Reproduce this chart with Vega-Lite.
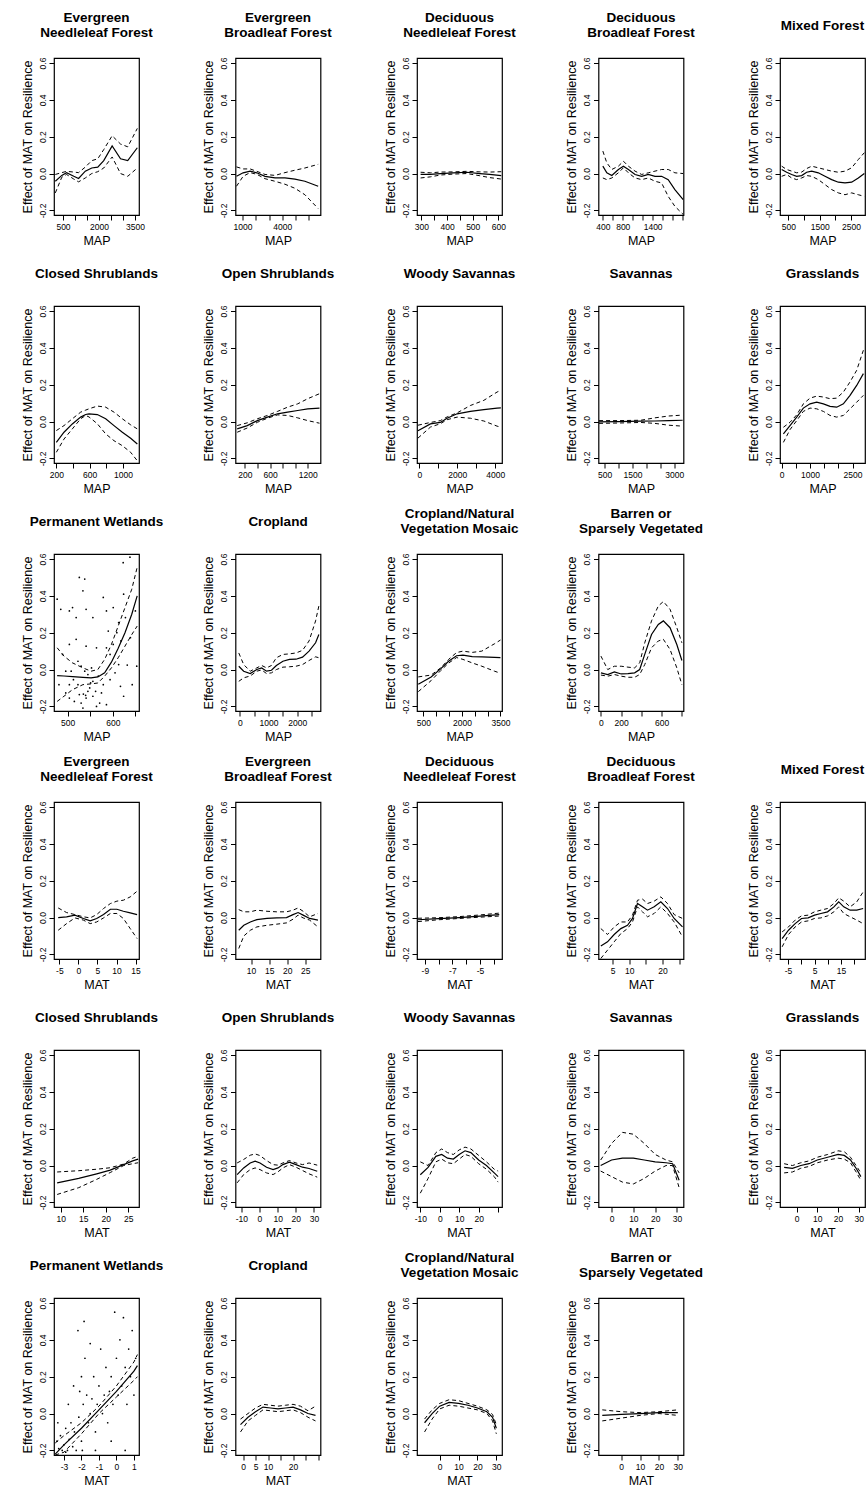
{
"$schema":"https://vega.github.io/schema/vega-lite/v6.json",
"background":"white",
"padding":{"left":20,"top":9,"right":5,"bottom":5},
"config":{
 "view":{"stroke":"black","strokeWidth":1.2},
 "font":"Liberation Sans",
 "title":{"font":"Liberation Sans","fontSize":13.5,"fontWeight":"bold","color":"black","lineHeight":15,"offset":18,"anchor":"middle"},
 "axis":{"domain":false,"grid":false,"ticks":true,"tickColor":"black","tickSize":5,"labelColor":"black","labelFont":"Liberation Sans","labelFontSize":8.5,"labelPadding":2,"titleFont":"Liberation Sans","titleFontSize":12.5,"titleFontWeight":"normal","titleColor":"black","labelFlush":false,"labelOverlap":false},
 "axisX":{"titlePadding":4},
 "axisY":{"labelAngle":270,"labelAlign":"center","labelBaseline":"bottom","titlePadding":4}
},
"datasets":{
"c":[
{"p":1,"x":180,"f":-0.042,"lo":-0.105,"hi":-0.005},{"p":1,"x":450,"f":-0.01,"lo":-0.02,"hi":0.005},{"p":1,"x":650,"f":0.005,"lo":-0.005,"hi":0.012},{"p":1,"x":950,"f":-0.015,"lo":-0.03,"hi":0.008},{"p":1,"x":1150,"f":-0.027,"lo":-0.045,"hi":0.005},{"p":1,"x":1430,"f":0.013,"lo":-0.024,"hi":0.035},{"p":1,"x":1700,"f":0.03,"lo":0.0,"hi":0.07},{"p":1,"x":1950,"f":0.035,"lo":0.01,"hi":0.08},{"p":1,"x":2200,"f":0.07,"lo":0.03,"hi":0.13},{"p":1,"x":2550,"f":0.15,"lo":0.09,"hi":0.205},{"p":1,"x":2900,"f":0.08,"lo":0.0,"hi":0.16},{"p":1,"x":3200,"f":0.07,"lo":-0.015,"hi":0.145},{"p":1,"x":3600,"f":0.14,"lo":0.03,"hi":0.245},
{"p":2,"x":550,"f":-0.015,"lo":-0.069,"hi":0.036},{"p":2,"x":1050,"f":0.004,"lo":-0.015,"hi":0.025},{"p":2,"x":1575,"f":0.013,"lo":0.005,"hi":0.025},{"p":2,"x":2075,"f":0.004,"lo":-0.004,"hi":0.012},{"p":2,"x":2700,"f":-0.015,"lo":-0.028,"hi":-0.005},{"p":2,"x":3450,"f":-0.024,"lo":-0.042,"hi":-0.01},{"p":2,"x":4200,"f":-0.024,"lo":-0.058,"hi":0.005},{"p":2,"x":4950,"f":-0.03,"lo":-0.08,"hi":0.018},{"p":2,"x":5700,"f":-0.042,"lo":-0.115,"hi":0.03},{"p":2,"x":6700,"f":-0.069,"lo":-0.19,"hi":0.05},
{"p":3,"x":297,"f":-0.005,"lo":-0.024,"hi":0.007},{"p":3,"x":335,"f":-0.005,"lo":-0.018,"hi":0.004},{"p":3,"x":374,"f":0.0,"lo":-0.008,"hi":0.008},{"p":3,"x":425,"f":0.004,"lo":-0.003,"hi":0.009},{"p":3,"x":477,"f":0.007,"lo":0.0,"hi":0.012},{"p":3,"x":528,"f":0.0,"lo":-0.012,"hi":0.009},{"p":3,"x":566,"f":-0.005,"lo":-0.022,"hi":0.008},{"p":3,"x":611,"f":-0.011,"lo":-0.03,"hi":0.01},
{"p":4,"x":400,"f":0.04,"lo":-0.024,"hi":0.122},{"p":4,"x":480,"f":0.004,"lo":-0.033,"hi":0.058},{"p":4,"x":580,"f":-0.011,"lo":-0.024,"hi":0.022},{"p":4,"x":713,"f":0.022,"lo":0.004,"hi":0.04},{"p":4,"x":813,"f":0.04,"lo":0.031,"hi":0.067},{"p":4,"x":913,"f":0.022,"lo":0.004,"hi":0.04},{"p":4,"x":1047,"f":-0.005,"lo":-0.024,"hi":0.013},{"p":4,"x":1180,"f":-0.015,"lo":-0.033,"hi":-0.005},{"p":4,"x":1313,"f":-0.005,"lo":-0.024,"hi":0.004},{"p":4,"x":1447,"f":-0.015,"lo":-0.042,"hi":0.013},{"p":4,"x":1580,"f":-0.015,"lo":-0.051,"hi":0.022},{"p":4,"x":1713,"f":-0.033,"lo":-0.124,"hi":0.022},{"p":4,"x":1847,"f":-0.087,"lo":-0.178,"hi":0.004},{"p":4,"x":2013,"f":-0.142,"lo":-0.222,"hi":0.0},
{"p":5,"x":287,"f":0.022,"lo":-0.015,"hi":0.04},{"p":5,"x":447,"f":0.007,"lo":-0.005,"hi":0.022},{"p":5,"x":606,"f":-0.005,"lo":-0.024,"hi":0.013},{"p":5,"x":766,"f":-0.015,"lo":-0.033,"hi":0.004},{"p":5,"x":926,"f":-0.011,"lo":-0.024,"hi":0.008},{"p":5,"x":1085,"f":0.007,"lo":-0.011,"hi":0.027},{"p":5,"x":1245,"f":0.013,"lo":-0.015,"hi":0.04},{"p":5,"x":1457,"f":0.004,"lo":-0.033,"hi":0.031},{"p":5,"x":1670,"f":-0.015,"lo":-0.06,"hi":0.022},{"p":5,"x":1883,"f":-0.033,"lo":-0.087,"hi":0.013},{"p":5,"x":2096,"f":-0.047,"lo":-0.105,"hi":0.007},{"p":5,"x":2309,"f":-0.051,"lo":-0.115,"hi":0.013},{"p":5,"x":2521,"f":-0.047,"lo":-0.105,"hi":0.031},{"p":5,"x":2734,"f":-0.024,"lo":-0.115,"hi":0.076},{"p":5,"x":2926,"f":0.0,"lo":-0.124,"hi":0.113},
{"p":6,"x":200,"f":-0.113,"lo":-0.167,"hi":-0.049},{"p":6,"x":292,"f":-0.058,"lo":-0.095,"hi":-0.022},{"p":6,"x":392,"f":-0.013,"lo":-0.04,"hi":0.015},{"p":6,"x":492,"f":0.024,"lo":0.015,"hi":0.051},{"p":6,"x":552,"f":0.038,"lo":0.033,"hi":0.062},{"p":6,"x":592,"f":0.042,"lo":0.025,"hi":0.069},{"p":6,"x":692,"f":0.038,"lo":-0.012,"hi":0.084},{"p":6,"x":792,"f":0.015,"lo":-0.067,"hi":0.078},{"p":6,"x":892,"f":-0.022,"lo":-0.104,"hi":0.051},{"p":6,"x":992,"f":-0.058,"lo":-0.131,"hi":0.015},{"p":6,"x":1092,"f":-0.091,"lo":-0.167,"hi":-0.018},{"p":6,"x":1172,"f":-0.122,"lo":-0.213,"hi":-0.04},
{"p":7,"x":77,"f":-0.04,"lo":-0.058,"hi":-0.022},{"p":7,"x":237,"f":-0.022,"lo":-0.035,"hi":-0.007},{"p":7,"x":398,"f":0.005,"lo":-0.004,"hi":0.015},{"p":7,"x":558,"f":0.024,"lo":0.018,"hi":0.033},{"p":7,"x":719,"f":0.042,"lo":0.036,"hi":0.055},{"p":7,"x":879,"f":0.051,"lo":0.033,"hi":0.078},{"p":7,"x":1040,"f":0.06,"lo":0.02,"hi":0.096},{"p":7,"x":1200,"f":0.069,"lo":0.005,"hi":0.124},{"p":7,"x":1387,"f":0.073,"lo":-0.009,"hi":0.151},
{"p":8,"x":-80,"f":-0.05,"lo":-0.09,"hi":-0.02},{"p":8,"x":580,"f":-0.013,"lo":-0.03,"hi":-0.005},{"p":8,"x":1100,"f":-0.005,"lo":-0.012,"hi":0.005},{"p":8,"x":1460,"f":0.018,"lo":0.01,"hi":0.025},{"p":8,"x":1990,"f":0.042,"lo":0.024,"hi":0.047},{"p":8,"x":2690,"f":0.055,"lo":0.018,"hi":0.087},{"p":8,"x":3400,"f":0.065,"lo":0.003,"hi":0.115},{"p":8,"x":4100,"f":0.073,"lo":-0.025,"hi":0.16},{"p":8,"x":4300,"f":0.074,"lo":-0.03,"hi":0.17},
{"p":9,"x":300,"f":-0.002,"lo":-0.01,"hi":0.005},{"p":9,"x":1000,"f":0.0,"lo":-0.008,"hi":0.005},{"p":9,"x":1800,"f":0.002,"lo":-0.005,"hi":0.007},{"p":9,"x":2300,"f":0.003,"lo":-0.01,"hi":0.02},{"p":9,"x":2800,"f":0.005,"lo":-0.02,"hi":0.03},{"p":9,"x":3300,"f":0.007,"lo":-0.025,"hi":0.035},
{"p":10,"x":60,"f":-0.067,"lo":-0.113,"hi":-0.031},{"p":10,"x":293,"f":-0.022,"lo":-0.044,"hi":-0.004},{"p":10,"x":529,"f":0.024,"lo":0.005,"hi":0.036},{"p":10,"x":764,"f":0.073,"lo":0.055,"hi":0.096},{"p":10,"x":1000,"f":0.096,"lo":0.073,"hi":0.127},{"p":10,"x":1235,"f":0.105,"lo":0.069,"hi":0.138},{"p":10,"x":1471,"f":0.096,"lo":0.055,"hi":0.133},{"p":10,"x":1706,"f":0.082,"lo":0.033,"hi":0.124},{"p":10,"x":1941,"f":0.078,"lo":0.024,"hi":0.127},{"p":10,"x":2177,"f":0.096,"lo":0.033,"hi":0.16},{"p":10,"x":2412,"f":0.142,"lo":0.069,"hi":0.215},{"p":10,"x":2647,"f":0.196,"lo":0.105,"hi":0.278},{"p":10,"x":2883,"f":0.26,"lo":0.142,"hi":0.387},
{"p":11,"x":477,"f":-0.033,"lo":-0.173,"hi":0.118},{"p":11,"x":492,"f":-0.035,"lo":-0.145,"hi":0.073},{"p":11,"x":511,"f":-0.038,"lo":-0.109,"hi":0.036},{"p":11,"x":534,"f":-0.042,"lo":-0.082,"hi":0.009},{"p":11,"x":552,"f":-0.045,"lo":-0.078,"hi":-0.009},{"p":11,"x":567,"f":-0.04,"lo":-0.073,"hi":0.0},{"p":11,"x":582,"f":-0.018,"lo":-0.036,"hi":0.055},{"p":11,"x":597,"f":0.04,"lo":0.009,"hi":0.136},{"p":11,"x":612,"f":0.115,"lo":0.064,"hi":0.236},{"p":11,"x":627,"f":0.2,"lo":0.127,"hi":0.336},{"p":11,"x":642,"f":0.3,"lo":0.19,"hi":0.436},{"p":11,"x":654,"f":0.4,"lo":0.236,"hi":0.555},
{"p":12,"x":-34,"f":0.018,"lo":-0.064,"hi":0.09},{"p":12,"x":136,"f":-0.009,"lo":-0.045,"hi":0.027},{"p":12,"x":364,"f":-0.022,"lo":-0.035,"hi":-0.009},{"p":12,"x":591,"f":0.0,"lo":-0.009,"hi":0.009},{"p":12,"x":761,"f":0.009,"lo":-0.002,"hi":0.022},{"p":12,"x":932,"f":-0.009,"lo":-0.022,"hi":0.009},{"p":12,"x":1102,"f":-0.004,"lo":-0.018,"hi":0.022},{"p":12,"x":1273,"f":0.022,"lo":0.0,"hi":0.064},{"p":12,"x":1500,"f":0.045,"lo":0.013,"hi":0.082},{"p":12,"x":1727,"f":0.055,"lo":0.015,"hi":0.085},{"p":12,"x":1955,"f":0.056,"lo":0.018,"hi":0.09},{"p":12,"x":2182,"f":0.067,"lo":0.027,"hi":0.104},{"p":12,"x":2409,"f":0.1,"lo":0.049,"hi":0.155},{"p":12,"x":2636,"f":0.145,"lo":0.069,"hi":0.264},{"p":12,"x":2750,"f":0.19,"lo":0.064,"hi":0.345},
{"p":13,"x":300,"f":-0.08,"lo":-0.12,"hi":-0.04},{"p":13,"x":800,"f":-0.04,"lo":-0.06,"hi":-0.03},{"p":13,"x":1180,"f":0.005,"lo":-0.005,"hi":0.01},{"p":13,"x":1480,"f":0.045,"lo":0.035,"hi":0.055},{"p":13,"x":1790,"f":0.075,"lo":0.065,"hi":0.092},{"p":13,"x":2040,"f":0.078,"lo":0.055,"hi":0.1},{"p":13,"x":2400,"f":0.07,"lo":0.036,"hi":0.093},{"p":13,"x":2775,"f":0.069,"lo":0.018,"hi":0.1},{"p":13,"x":3270,"f":0.066,"lo":-0.009,"hi":0.14},{"p":13,"x":3500,"f":0.065,"lo":-0.02,"hi":0.16},
{"p":14,"x":0,"f":-0.018,"lo":-0.03,"hi":0.073},{"p":14,"x":67,"f":-0.027,"lo":-0.036,"hi":0.0},{"p":14,"x":133,"f":-0.013,"lo":-0.027,"hi":0.018},{"p":14,"x":200,"f":-0.024,"lo":-0.036,"hi":0.018},{"p":14,"x":267,"f":-0.022,"lo":-0.042,"hi":0.013},{"p":14,"x":333,"f":-0.018,"lo":-0.042,"hi":0.009},{"p":14,"x":383,"f":0.0,"lo":-0.027,"hi":0.036},{"p":14,"x":433,"f":0.082,"lo":0.027,"hi":0.145},{"p":14,"x":500,"f":0.19,"lo":0.118,"hi":0.264},{"p":14,"x":567,"f":0.245,"lo":0.155,"hi":0.345},{"p":14,"x":617,"f":0.264,"lo":0.164,"hi":0.369},{"p":14,"x":683,"f":0.227,"lo":0.109,"hi":0.327},{"p":14,"x":750,"f":0.136,"lo":0.009,"hi":0.227},{"p":14,"x":800,"f":0.049,"lo":-0.082,"hi":0.145},
{"p":15,"x":-5.3,"f":0.0,"lo":-0.069,"hi":0.052},{"p":15,"x":-3.1,"f":0.004,"lo":-0.033,"hi":0.027},{"p":15,"x":-0.9,"f":0.013,"lo":-0.002,"hi":0.016},{"p":15,"x":1.3,"f":-0.005,"lo":-0.014,"hi":0.004},{"p":15,"x":3.1,"f":-0.018,"lo":-0.033,"hi":-0.002},{"p":15,"x":4.8,"f":-0.005,"lo":-0.024,"hi":0.016},{"p":15,"x":6.6,"f":0.016,"lo":-0.002,"hi":0.049},{"p":15,"x":8.4,"f":0.045,"lo":0.022,"hi":0.076},{"p":15,"x":10.1,"f":0.045,"lo":0.022,"hi":0.089},{"p":15,"x":11.8,"f":0.034,"lo":-0.005,"hi":0.094},{"p":15,"x":13.6,"f":0.025,"lo":-0.06,"hi":0.112},{"p":15,"x":15.4,"f":0.016,"lo":-0.114,"hi":0.143},
{"p":16,"x":6.6,"f":-0.069,"lo":-0.168,"hi":0.043},{"p":16,"x":8,"f":-0.042,"lo":-0.1,"hi":0.031},{"p":16,"x":9.8,"f":-0.024,"lo":-0.069,"hi":0.031},{"p":16,"x":11.6,"f":-0.011,"lo":-0.051,"hi":0.04},{"p":16,"x":14.4,"f":-0.005,"lo":-0.042,"hi":0.034},{"p":16,"x":17.1,"f":-0.002,"lo":-0.036,"hi":0.031},{"p":16,"x":19.8,"f":0.0,"lo":-0.029,"hi":0.031},{"p":16,"x":21.6,"f":0.016,"lo":-0.009,"hi":0.04},{"p":16,"x":23,"f":0.027,"lo":0.013,"hi":0.052},{"p":16,"x":24.4,"f":0.013,"lo":-0.002,"hi":0.034},{"p":16,"x":26.2,"f":-0.005,"lo":-0.014,"hi":0.004},{"p":16,"x":28.5,"f":-0.014,"lo":-0.051,"hi":0.022},
{"p":17,"x":-9.5,"f":-0.012,"lo":-0.022,"hi":-0.004},{"p":17,"x":-8,"f":-0.006,"lo":-0.012,"hi":-0.001},{"p":17,"x":-6.5,"f":0.0,"lo":-0.005,"hi":0.005},{"p":17,"x":-5,"f":0.008,"lo":0.002,"hi":0.014},{"p":17,"x":-3.6,"f":0.016,"lo":0.008,"hi":0.024},
{"p":18,"x":1.5,"f":-0.154,"lo":-0.222,"hi":-0.06},{"p":18,"x":3.5,"f":-0.132,"lo":-0.177,"hi":-0.092},{"p":18,"x":5.5,"f":-0.092,"lo":-0.132,"hi":-0.051},{"p":18,"x":7.5,"f":-0.06,"lo":-0.087,"hi":-0.024},{"p":18,"x":9.5,"f":-0.042,"lo":-0.06,"hi":-0.024},{"p":18,"x":11,"f":-0.005,"lo":-0.024,"hi":0.013},{"p":18,"x":12.5,"f":0.076,"lo":0.058,"hi":0.094},{"p":18,"x":14,"f":0.058,"lo":0.031,"hi":0.1},{"p":18,"x":15.5,"f":0.04,"lo":0.004,"hi":0.076},{"p":18,"x":17.5,"f":0.058,"lo":0.022,"hi":0.089},{"p":18,"x":19.5,"f":0.085,"lo":0.058,"hi":0.112},{"p":18,"x":21.5,"f":0.049,"lo":0.022,"hi":0.076},{"p":18,"x":23.5,"f":-0.005,"lo":-0.024,"hi":0.016},{"p":18,"x":26,"f":-0.051,"lo":-0.105,"hi":-0.005},
{"p":19,"x":-7.2,"f":-0.114,"lo":-0.159,"hi":-0.078},{"p":19,"x":-4.8,"f":-0.069,"lo":-0.092,"hi":-0.051},{"p":19,"x":-2.3,"f":-0.033,"lo":-0.051,"hi":-0.014},{"p":19,"x":0.1,"f":-0.005,"lo":-0.024,"hi":0.009},{"p":19,"x":2.6,"f":-0.002,"lo":-0.018,"hi":0.013},{"p":19,"x":5,"f":0.013,"lo":-0.005,"hi":0.031},{"p":19,"x":7.4,"f":0.022,"lo":-0.002,"hi":0.04},{"p":19,"x":9.9,"f":0.031,"lo":0.009,"hi":0.049},{"p":19,"x":12.3,"f":0.058,"lo":0.031,"hi":0.076},{"p":19,"x":14.1,"f":0.085,"lo":0.058,"hi":0.107},{"p":19,"x":16,"f":0.058,"lo":0.022,"hi":0.089},{"p":19,"x":18.4,"f":0.04,"lo":0.004,"hi":0.058},{"p":19,"x":20.9,"f":0.04,"lo":-0.014,"hi":0.085},{"p":19,"x":23.3,"f":0.049,"lo":-0.033,"hi":0.139},
{"p":20,"x":9.2,"f":-0.094,"lo":-0.157,"hi":-0.035},{"p":20,"x":14,"f":-0.07,"lo":-0.12,"hi":-0.028},{"p":20,"x":18,"f":-0.045,"lo":-0.075,"hi":-0.02},{"p":20,"x":21,"f":-0.025,"lo":-0.038,"hi":-0.012},{"p":20,"x":24,"f":0.005,"lo":0.0,"hi":0.008},{"p":20,"x":26,"f":0.025,"lo":0.01,"hi":0.04},{"p":20,"x":27.2,"f":0.035,"lo":0.015,"hi":0.05},
{"p":21,"x":-12.3,"f":-0.049,"lo":-0.094,"hi":0.014},{"p":21,"x":-8.7,"f":-0.013,"lo":-0.049,"hi":0.033},{"p":21,"x":-5.1,"f":0.014,"lo":-0.022,"hi":0.056},{"p":21,"x":-2.4,"f":0.024,"lo":-0.013,"hi":0.063},{"p":21,"x":0.3,"f":0.014,"lo":-0.022,"hi":0.054},{"p":21,"x":3.9,"f":-0.009,"lo":-0.04,"hi":0.027},{"p":21,"x":7.5,"f":-0.022,"lo":-0.049,"hi":0.005},{"p":21,"x":10.2,"f":-0.013,"lo":-0.034,"hi":0.002},{"p":21,"x":12.9,"f":0.005,"lo":-0.013,"hi":0.014},{"p":21,"x":16.5,"f":0.018,"lo":0.005,"hi":0.027},{"p":21,"x":20.1,"f":0.005,"lo":-0.009,"hi":0.014},{"p":21,"x":23.7,"f":-0.009,"lo":-0.027,"hi":0.005},{"p":21,"x":27.3,"f":-0.016,"lo":-0.045,"hi":0.014},{"p":21,"x":31.8,"f":-0.031,"lo":-0.063,"hi":0.002},
{"p":22,"x":-10,"f":-0.05,"lo":-0.15,"hi":0.02},{"p":22,"x":-6,"f":-0.01,"lo":-0.07,"hi":0.0},{"p":22,"x":-2,"f":0.05,"lo":0.02,"hi":0.07},{"p":22,"x":1,"f":0.06,"lo":0.035,"hi":0.09},{"p":22,"x":4,"f":0.04,"lo":0.015,"hi":0.07},{"p":22,"x":7,"f":0.035,"lo":0.01,"hi":0.06},{"p":22,"x":10,"f":0.06,"lo":0.035,"hi":0.085},{"p":22,"x":13,"f":0.08,"lo":0.06,"hi":0.1},{"p":22,"x":16,"f":0.07,"lo":0.05,"hi":0.09},{"p":22,"x":20,"f":0.03,"lo":0.01,"hi":0.055},{"p":22,"x":24,"f":0.0,"lo":-0.02,"hi":0.02},{"p":22,"x":28,"f":-0.04,"lo":-0.06,"hi":-0.02},{"p":22,"x":30,"f":-0.06,"lo":-0.09,"hi":-0.03},
{"p":23,"x":-5,"f":0.0,"lo":-0.03,"hi":0.03},{"p":23,"x":0,"f":0.03,"lo":-0.06,"hi":0.12},{"p":23,"x":5,"f":0.04,"lo":-0.09,"hi":0.18},{"p":23,"x":10,"f":0.04,"lo":-0.1,"hi":0.17},{"p":23,"x":15,"f":0.03,"lo":-0.07,"hi":0.12},{"p":23,"x":20,"f":0.02,"lo":-0.03,"hi":0.06},{"p":23,"x":25,"f":0.015,"lo":0.0,"hi":0.03},{"p":23,"x":28,"f":0.01,"lo":0.0,"hi":0.02},{"p":23,"x":30,"f":-0.05,"lo":-0.08,"hi":-0.02},{"p":23,"x":31,"f":-0.08,"lo":-0.12,"hi":-0.04},
{"p":24,"x":-6,"f":-0.01,"lo":-0.04,"hi":0.01},{"p":24,"x":-2,"f":-0.015,"lo":-0.035,"hi":0.0},{"p":24,"x":2,"f":0.0,"lo":-0.015,"hi":0.015},{"p":24,"x":6,"f":0.01,"lo":-0.005,"hi":0.025},{"p":24,"x":10,"f":0.03,"lo":0.015,"hi":0.045},{"p":24,"x":15,"f":0.045,"lo":0.03,"hi":0.06},{"p":24,"x":20,"f":0.06,"lo":0.04,"hi":0.08},{"p":24,"x":23,"f":0.055,"lo":0.035,"hi":0.075},{"p":24,"x":26,"f":0.03,"lo":0.015,"hi":0.045},{"p":24,"x":29,"f":-0.02,"lo":-0.04,"hi":-0.005},{"p":24,"x":31,"f":-0.06,"lo":-0.08,"hi":-0.04},
{"p":25,"x":-3.5,"f":-0.22,"lo":-0.225,"hi":-0.16},{"p":25,"x":-3,"f":-0.17,"lo":-0.21,"hi":-0.12},{"p":25,"x":-2,"f":-0.08,"lo":-0.11,"hi":-0.05},{"p":25,"x":-1,"f":0.02,"lo":0.0,"hi":0.04},{"p":25,"x":0,"f":0.12,"lo":0.09,"hi":0.15},{"p":25,"x":1,"f":0.23,"lo":0.18,"hi":0.28},{"p":25,"x":1.2,"f":0.26,"lo":0.2,"hi":0.32},
{"p":26,"x":-1,"f":-0.06,"lo":-0.1,"hi":-0.03},{"p":26,"x":2,"f":-0.02,"lo":-0.04,"hi":0.0},{"p":26,"x":5,"f":0.01,"lo":-0.01,"hi":0.03},{"p":26,"x":8,"f":0.035,"lo":0.02,"hi":0.05},{"p":26,"x":11,"f":0.03,"lo":0.015,"hi":0.045},{"p":26,"x":14,"f":0.025,"lo":0.01,"hi":0.04},{"p":26,"x":17,"f":0.03,"lo":0.015,"hi":0.045},{"p":26,"x":20,"f":0.035,"lo":0.02,"hi":0.05},{"p":26,"x":23,"f":0.02,"lo":0.005,"hi":0.04},{"p":26,"x":26,"f":0.0,"lo":-0.02,"hi":0.015},{"p":26,"x":29,"f":-0.01,"lo":-0.04,"hi":0.04},
{"p":27,"x":-8,"f":-0.05,"lo":-0.1,"hi":-0.03},{"p":27,"x":-4,"f":0.0,"lo":-0.03,"hi":0.02},{"p":27,"x":0,"f":0.04,"lo":0.025,"hi":0.055},{"p":27,"x":5,"f":0.06,"lo":0.045,"hi":0.075},{"p":27,"x":10,"f":0.055,"lo":0.04,"hi":0.07},{"p":27,"x":15,"f":0.045,"lo":0.03,"hi":0.055},{"p":27,"x":20,"f":0.03,"lo":0.02,"hi":0.04},{"p":27,"x":25,"f":0.01,"lo":0.0,"hi":0.02},{"p":27,"x":28,"f":-0.02,"lo":-0.04,"hi":-0.005},{"p":27,"x":30,"f":-0.08,"lo":-0.11,"hi":-0.06},
{"p":28,"x":-10,"f":-0.01,"lo":-0.04,"hi":0.02},{"p":28,"x":0,"f":-0.005,"lo":-0.025,"hi":0.01},{"p":28,"x":10,"f":0.0,"lo":-0.01,"hi":0.005},{"p":28,"x":20,"f":0.005,"lo":0.0,"hi":0.01},{"p":28,"x":30,"f":0.005,"lo":-0.01,"hi":0.02}
],
"r":[
{"p":1,"x":200,"x2":1650},{"p":1,"x":1700,"x2":2300},{"p":1,"x":2400,"x2":3050},{"p":1,"x":3150,"x2":3600},
{"p":2,"x":675,"x2":4300},{"p":2,"x":4550,"x2":4560},{"p":2,"x":4800,"x2":4810},{"p":2,"x":5050,"x2":5060},{"p":2,"x":5425,"x2":5435},
{"p":3,"x":302,"x2":437},{"p":3,"x":476,"x2":478},{"p":3,"x":509,"x2":511},{"p":3,"x":564,"x2":566},{"p":3,"x":573,"x2":575},{"p":3,"x":582,"x2":584},
{"p":4,"x":400,"x2":1780},
{"p":5,"x":266,"x2":1670},{"p":5,"x":1776,"x2":1780},{"p":5,"x":1883,"x2":1887},{"p":5,"x":1989,"x2":1993},{"p":5,"x":2415,"x2":2419},{"p":5,"x":2574,"x2":2578},
{"p":6,"x":200,"x2":202},{"p":6,"x":312,"x2":314},{"p":6,"x":400,"x2":412},{"p":6,"x":472,"x2":572},{"p":6,"x":600,"x2":602},{"p":6,"x":832,"x2":834},{"p":6,"x":992,"x2":994},{"p":6,"x":1152,"x2":1154},
{"p":7,"x":77,"x2":879},{"p":7,"x":986,"x2":990},{"p":7,"x":1200,"x2":1204},{"p":7,"x":1334,"x2":1338},
{"p":8,"x":-50,"x2":2250},{"p":8,"x":2430,"x2":2440},{"p":8,"x":2600,"x2":2610},{"p":8,"x":2835,"x2":2845},
{"p":9,"x":343,"x2":1990},{"p":9,"x":2210,"x2":2220},{"p":9,"x":2580,"x2":2590},{"p":9,"x":2700,"x2":2710},{"p":9,"x":2940,"x2":2950},
{"p":10,"x":60,"x2":1824},{"p":10,"x":2059,"x2":2069},{"p":10,"x":2300,"x2":2310},{"p":10,"x":2450,"x2":2460},{"p":10,"x":2580,"x2":2590},{"p":10,"x":2700,"x2":2710},{"p":10,"x":2800,"x2":2810},
{"p":11,"x":474,"x2":601},{"p":11,"x":609,"x2":610},{"p":11,"x":616,"x2":617},{"p":11,"x":624,"x2":625},{"p":11,"x":635,"x2":636},{"p":11,"x":643,"x2":644},{"p":11,"x":650,"x2":651},
{"p":12,"x":-91,"x2":1955},{"p":12,"x":2182,"x2":2192},{"p":12,"x":2523,"x2":2533},{"p":12,"x":2693,"x2":2703},
{"p":13,"x":300,"x2":2880},{"p":13,"x":3050,"x2":3060},{"p":13,"x":3250,"x2":3260},
{"p":14,"x":0,"x2":433},{"p":14,"x":567,"x2":572},{"p":14,"x":617,"x2":622},{"p":14,"x":683,"x2":688},{"p":14,"x":783,"x2":788},
{"p":15,"x":-5.3,"x2":11.7},
{"p":16,"x":6.6,"x2":6.7},{"p":16,"x":7.3,"x2":7.4},{"p":16,"x":8,"x2":28},
{"p":17,"x":-9.2,"x2":-9.1},{"p":17,"x":-8.6,"x2":-8.2},{"p":17,"x":-7.9,"x2":-5.3},{"p":17,"x":-5.1,"x2":-3.7},
{"p":18,"x":2,"x2":2.1},{"p":18,"x":2.6,"x2":2.7},{"p":18,"x":3.3,"x2":26},
{"p":19,"x":-6.6,"x2":19.6},
{"p":20,"x":9.2,"x2":9.3},{"p":20,"x":10,"x2":10.1},{"p":20,"x":11.5,"x2":11.6},{"p":20,"x":19.8,"x2":27},
{"p":21,"x":-12,"x2":-11.9},{"p":21,"x":-10.5,"x2":-10.4},{"p":21,"x":-8,"x2":-7.9},{"p":21,"x":-6,"x2":-5.9},{"p":21,"x":-4,"x2":-3.9},{"p":21,"x":-1.5,"x2":-1.4},{"p":21,"x":1,"x2":1.1},{"p":21,"x":5.7,"x2":31.8},
{"p":22,"x":-10,"x2":-9.9},{"p":22,"x":-8,"x2":-7.9},{"p":22,"x":-5,"x2":28},
{"p":23,"x":-3,"x2":-2.9},{"p":23,"x":2,"x2":2.1},{"p":23,"x":12,"x2":31},
{"p":24,"x":-6,"x2":30},
{"p":25,"x":-3.5,"x2":1.1},
{"p":26,"x":-1,"x2":29},
{"p":27,"x":-8,"x2":30},
{"p":28,"x":-8,"x2":32}
],
"s":[
{"p":11,"x":477,"y":0.382},{"p":11,"x":485,"y":0.327},{"p":11,"x":504,"y":0.318},{"p":11,"x":519,"y":0.282},{"p":11,"x":511,"y":0.336},{"p":11,"x":526,"y":0.5},{"p":11,"x":538,"y":0.491},{"p":11,"x":534,"y":0.427},{"p":11,"x":541,"y":0.327},{"p":11,"x":556,"y":0.282},{"p":11,"x":579,"y":0.391},{"p":11,"x":586,"y":0.318},{"p":11,"x":601,"y":0.336},{"p":11,"x":613,"y":0.255},{"p":11,"x":624,"y":0.409},{"p":11,"x":623,"y":0.58},{"p":11,"x":638,"y":0.61},{"p":11,"x":609,"y":0.2},{"p":11,"x":590,"y":0.209},{"p":11,"x":564,"y":0.118},{"p":11,"x":541,"y":0.127},{"p":11,"x":519,"y":0.164},{"p":11,"x":504,"y":0.136},{"p":11,"x":489,"y":0.082},{"p":11,"x":508,"y":-0.009},{"p":11,"x":523,"y":0.045},{"p":11,"x":530,"y":0.018},{"p":11,"x":538,"y":-0.009},{"p":11,"x":545,"y":-0.027},{"p":11,"x":553,"y":0.009},{"p":11,"x":556,"y":-0.064},{"p":11,"x":568,"y":-0.036},{"p":11,"x":579,"y":-0.082},{"p":11,"x":594,"y":-0.055},{"p":11,"x":605,"y":-0.018},{"p":11,"x":617,"y":-0.091},{"p":11,"x":624,"y":-0.145},{"p":11,"x":632,"y":0.024},{"p":11,"x":643,"y":-0.082},{"p":11,"x":575,"y":-0.127},{"p":11,"x":556,"y":-0.145},{"p":11,"x":541,"y":-0.155},{"p":11,"x":526,"y":-0.136},{"p":11,"x":515,"y":-0.173},{"p":11,"x":530,"y":-0.182},{"p":11,"x":545,"y":-0.118},{"p":11,"x":523,"y":-0.082},{"p":11,"x":504,"y":-0.082},{"p":11,"x":496,"y":-0.127},{"p":11,"x":481,"y":-0.082},{"p":11,"x":504,"y":-0.155},{"p":11,"x":571,"y":-0.182},{"p":11,"x":586,"y":-0.191},{"p":11,"x":534,"y":-0.209},{"p":11,"x":564,"y":-0.2},{"p":11,"x":639,"y":0.173},{"p":11,"x":650,"y":0.318},{"p":11,"x":628,"y":0.282},{"p":11,"x":601,"y":0.136},{"p":11,"x":594,"y":0.082},{"p":11,"x":613,"y":0.027},{"p":11,"x":549,"y":-0.1},{"p":11,"x":535,"y":-0.133},{"p":11,"x":540,"y":-0.14},{"p":11,"x":551,"y":-0.073},{"p":11,"x":562,"y":-0.118},{"p":11,"x":496,"y":-0.009},{"p":11,"x":513,"y":-0.055},{"p":11,"x":653,"y":0.018},{"p":11,"x":618,"y":0.155},{"p":11,"x":586,"y":0.118},
{"p":25,"x":-3.4,"y":-0.15},{"p":25,"x":-3.3,"y":-0.19},{"p":25,"x":-3.2,"y":-0.12},{"p":25,"x":-3.1,"y":-0.2},{"p":25,"x":-3.0,"y":-0.17},{"p":25,"x":-2.9,"y":-0.08},{"p":25,"x":-2.8,"y":-0.2},{"p":25,"x":-2.7,"y":-0.14},{"p":25,"x":-2.6,"y":-0.05},{"p":25,"x":-2.5,"y":-0.18},{"p":25,"x":-2.45,"y":0.15},{"p":25,"x":-2.4,"y":-0.1},{"p":25,"x":-2.3,"y":-0.2},{"p":25,"x":-2.2,"y":0.45},{"p":25,"x":-2.15,"y":-0.02},{"p":25,"x":-2.1,"y":0.12},{"p":25,"x":-2.0,"y":0.2},{"p":25,"x":-2.0,"y":-0.15},{"p":25,"x":-1.9,"y":0.05},{"p":25,"x":-1.85,"y":0.5},{"p":25,"x":-1.8,"y":0.3},{"p":25,"x":-1.7,"y":0.1},{"p":25,"x":-1.6,"y":-0.05},{"p":25,"x":-1.5,"y":0.38},{"p":25,"x":-1.5,"y":0.0},{"p":25,"x":-1.4,"y":0.08},{"p":25,"x":-1.3,"y":0.2},{"p":25,"x":-1.2,"y":-0.1},{"p":25,"x":-1.1,"y":0.05},{"p":25,"x":-1.0,"y":0.15},{"p":25,"x":-0.9,"y":0.35},{"p":25,"x":-0.8,"y":0.0},{"p":25,"x":-0.7,"y":0.1},{"p":25,"x":-0.6,"y":0.25},{"p":25,"x":-0.5,"y":-0.05},{"p":25,"x":-0.4,"y":0.12},{"p":25,"x":-0.3,"y":0.2},{"p":25,"x":-0.2,"y":0.05},{"p":25,"x":-0.1,"y":0.55},{"p":25,"x":0.0,"y":0.3},{"p":25,"x":0.1,"y":0.1},{"p":25,"x":0.2,"y":0.4},{"p":25,"x":0.3,"y":0.15},{"p":25,"x":0.4,"y":0.52},{"p":25,"x":0.5,"y":0.25},{"p":25,"x":0.6,"y":0.05},{"p":25,"x":0.7,"y":0.35},{"p":25,"x":0.8,"y":0.2},{"p":25,"x":0.9,"y":0.45},{"p":25,"x":1.0,"y":0.1},{"p":25,"x":1.1,"y":0.3},{"p":25,"x":-3.35,"y":-0.05},{"p":25,"x":-2.75,"y":0.05},{"p":25,"x":-2.9,"y":-0.21},{"p":25,"x":-1.95,"y":-0.2},{"p":25,"x":-1.2,"y":-0.2},{"p":25,"x":-0.3,"y":-0.15},{"p":25,"x":0.5,"y":-0.2}
]
},
"columns":5,
"spacing":{"row":91,"column":96.5},
"bounds":"flush",
"concat":[
{"width":85,"height":157,"title":{"text":["Evergreen","Needleleaf Forest"]},"data":{"name":"c"},"transform":[{"filter":"datum.p==1"}],"encoding":{"x":{"field":"x","type":"quantitative","title":"MAP","scale":{"domain":[125,3670],"nice":false,"zero":false},"axis":{"title":"MAP","format":"d","values":[500,1000,1500,2000,2500,3000,3500],"labelExpr":"indexof([500,2000,3500],datum.value)<0?'':datum.label"}},"y":{"field":"f","type":"quantitative","title":"Effect of MAT on Resilience","scale":{"domain":[-0.225,0.627],"nice":false,"zero":false},"axis":{"title":"Effect of MAT on Resilience","values":[-0.2,0,0.2,0.4,0.6],"format":".1f","labelExpr":"replace(datum.label,'−','-')"}}},"layer":[{"mark":{"type":"line","color":"black","strokeWidth":1.2,"clip":true}},{"mark":{"type":"line","color":"black","strokeWidth":1,"strokeDash":[4,3],"clip":true},"encoding":{"y":{"field":"hi","type":"quantitative","title":"Effect of MAT on Resilience"}}},{"mark":{"type":"line","color":"black","strokeWidth":1,"strokeDash":[4,3],"clip":true},"encoding":{"y":{"field":"lo","type":"quantitative","title":"Effect of MAT on Resilience"}}},{"data":{"name":"r"},"transform":[{"filter":"datum.p==1"}],"mark":{"type":"rect","color":"black","stroke":"black","strokeWidth":1},"encoding":{"x2":{"field":"x2"},"y":{"datum":-0.225},"y2":{"datum":-0.205}}}]},
{"width":85,"height":157,"title":{"text":["Evergreen","Broadleaf Forest"]},"data":{"name":"c"},"transform":[{"filter":"datum.p==2"}],"encoding":{"x":{"field":"x","type":"quantitative","title":"MAP","scale":{"domain":[475,6875],"nice":false,"zero":false},"axis":{"title":"MAP","format":"d","values":[1000,2000,3000,4000,5000,6000],"labelExpr":"indexof([1000,4000],datum.value)<0?'':datum.label"}},"y":{"field":"f","type":"quantitative","title":"Effect of MAT on Resilience","scale":{"domain":[-0.225,0.627],"nice":false,"zero":false},"axis":{"title":"Effect of MAT on Resilience","values":[-0.2,0,0.2,0.4,0.6],"format":".1f","labelExpr":"replace(datum.label,'−','-')"}}},"layer":[{"mark":{"type":"line","color":"black","strokeWidth":1.2,"clip":true}},{"mark":{"type":"line","color":"black","strokeWidth":1,"strokeDash":[4,3],"clip":true},"encoding":{"y":{"field":"hi","type":"quantitative","title":"Effect of MAT on Resilience"}}},{"mark":{"type":"line","color":"black","strokeWidth":1,"strokeDash":[4,3],"clip":true},"encoding":{"y":{"field":"lo","type":"quantitative","title":"Effect of MAT on Resilience"}}},{"data":{"name":"r"},"transform":[{"filter":"datum.p==2"}],"mark":{"type":"rect","color":"black","stroke":"black","strokeWidth":1},"encoding":{"x2":{"field":"x2"},"y":{"datum":-0.225},"y2":{"datum":-0.205}}}]},
{"width":85,"height":157,"title":{"text":["Deciduous","Needleleaf Forest"]},"data":{"name":"c"},"transform":[{"filter":"datum.p==3"}],"encoding":{"x":{"field":"x","type":"quantitative","title":"MAP","scale":{"domain":[283,614],"nice":false,"zero":false},"axis":{"title":"MAP","format":"d","values":[300,350,400,450,500,550,600],"labelExpr":"indexof([300,400,500,600],datum.value)<0?'':datum.label"}},"y":{"field":"f","type":"quantitative","title":"Effect of MAT on Resilience","scale":{"domain":[-0.225,0.627],"nice":false,"zero":false},"axis":{"title":"Effect of MAT on Resilience","values":[-0.2,0,0.2,0.4,0.6],"format":".1f","labelExpr":"replace(datum.label,'−','-')"}}},"layer":[{"mark":{"type":"line","color":"black","strokeWidth":1.2,"clip":true}},{"mark":{"type":"line","color":"black","strokeWidth":1,"strokeDash":[4,3],"clip":true},"encoding":{"y":{"field":"hi","type":"quantitative","title":"Effect of MAT on Resilience"}}},{"mark":{"type":"line","color":"black","strokeWidth":1,"strokeDash":[4,3],"clip":true},"encoding":{"y":{"field":"lo","type":"quantitative","title":"Effect of MAT on Resilience"}}},{"data":{"name":"r"},"transform":[{"filter":"datum.p==3"}],"mark":{"type":"rect","color":"black","stroke":"black","strokeWidth":1},"encoding":{"x2":{"field":"x2"},"y":{"datum":-0.225},"y2":{"datum":-0.205}}}]},
{"width":85,"height":157,"title":{"text":["Deciduous","Broadleaf Forest"]},"data":{"name":"c"},"transform":[{"filter":"datum.p==4"}],"encoding":{"x":{"field":"x","type":"quantitative","title":"MAP","scale":{"domain":[313,2020],"nice":false,"zero":false},"axis":{"title":"MAP","format":"d","values":[400,600,800,1000,1200,1400,1600,1800,2000],"labelExpr":"indexof([400,800,1400],datum.value)<0?'':datum.label"}},"y":{"field":"f","type":"quantitative","title":"Effect of MAT on Resilience","scale":{"domain":[-0.225,0.627],"nice":false,"zero":false},"axis":{"title":"Effect of MAT on Resilience","values":[-0.2,0,0.2,0.4,0.6],"format":".1f","labelExpr":"replace(datum.label,'−','-')"}}},"layer":[{"mark":{"type":"line","color":"black","strokeWidth":1.2,"clip":true}},{"mark":{"type":"line","color":"black","strokeWidth":1,"strokeDash":[4,3],"clip":true},"encoding":{"y":{"field":"hi","type":"quantitative","title":"Effect of MAT on Resilience"}}},{"mark":{"type":"line","color":"black","strokeWidth":1,"strokeDash":[4,3],"clip":true},"encoding":{"y":{"field":"lo","type":"quantitative","title":"Effect of MAT on Resilience"}}},{"data":{"name":"r"},"transform":[{"filter":"datum.p==4"}],"mark":{"type":"rect","color":"black","stroke":"black","strokeWidth":1},"encoding":{"x2":{"field":"x2"},"y":{"datum":-0.225},"y2":{"datum":-0.205}}}]},
{"width":85,"height":157,"title":{"text":"Mixed Forest","offset":25},"data":{"name":"c"},"transform":[{"filter":"datum.p==5"}],"encoding":{"x":{"field":"x","type":"quantitative","title":"MAP","scale":{"domain":[234,2947],"nice":false,"zero":false},"axis":{"title":"MAP","format":"d","values":[500,1000,1500,2000,2500],"labelExpr":"indexof([500,1500,2500],datum.value)<0?'':datum.label"}},"y":{"field":"f","type":"quantitative","title":"Effect of MAT on Resilience","scale":{"domain":[-0.225,0.627],"nice":false,"zero":false},"axis":{"title":"Effect of MAT on Resilience","values":[-0.2,0,0.2,0.4,0.6],"format":".1f","labelExpr":"replace(datum.label,'−','-')"}}},"layer":[{"mark":{"type":"line","color":"black","strokeWidth":1.2,"clip":true}},{"mark":{"type":"line","color":"black","strokeWidth":1,"strokeDash":[4,3],"clip":true},"encoding":{"y":{"field":"hi","type":"quantitative","title":"Effect of MAT on Resilience"}}},{"mark":{"type":"line","color":"black","strokeWidth":1,"strokeDash":[4,3],"clip":true},"encoding":{"y":{"field":"lo","type":"quantitative","title":"Effect of MAT on Resilience"}}},{"data":{"name":"r"},"transform":[{"filter":"datum.p==5"}],"mark":{"type":"rect","color":"black","stroke":"black","strokeWidth":1},"encoding":{"x2":{"field":"x2"},"y":{"datum":-0.225},"y2":{"datum":-0.205}}}]},
{"width":85,"height":157,"title":{"text":"Closed Shrublands","offset":25},"data":{"name":"c"},"transform":[{"filter":"datum.p==6"}],"encoding":{"x":{"field":"x","type":"quantitative","title":"MAP","scale":{"domain":[172,1192],"nice":false,"zero":false},"axis":{"title":"MAP","format":"d","values":[200,400,600,800,1000],"labelExpr":"indexof([200,600,1000],datum.value)<0?'':datum.label"}},"y":{"field":"f","type":"quantitative","title":"Effect of MAT on Resilience","scale":{"domain":[-0.225,0.627],"nice":false,"zero":false},"axis":{"title":"Effect of MAT on Resilience","values":[-0.2,0,0.2,0.4,0.6],"format":".1f","labelExpr":"replace(datum.label,'−','-')"}}},"layer":[{"mark":{"type":"line","color":"black","strokeWidth":1.2,"clip":true}},{"mark":{"type":"line","color":"black","strokeWidth":1,"strokeDash":[4,3],"clip":true},"encoding":{"y":{"field":"hi","type":"quantitative","title":"Effect of MAT on Resilience"}}},{"mark":{"type":"line","color":"black","strokeWidth":1,"strokeDash":[4,3],"clip":true},"encoding":{"y":{"field":"lo","type":"quantitative","title":"Effect of MAT on Resilience"}}},{"data":{"name":"r"},"transform":[{"filter":"datum.p==6"}],"mark":{"type":"rect","color":"black","stroke":"black","strokeWidth":1},"encoding":{"x2":{"field":"x2"},"y":{"datum":-0.225},"y2":{"datum":-0.205}}}]},
{"width":85,"height":157,"title":{"text":"Open Shrublands","offset":25},"data":{"name":"c"},"transform":[{"filter":"datum.p==7"}],"encoding":{"x":{"field":"x","type":"quantitative","title":"MAP","scale":{"domain":[50,1403],"nice":false,"zero":false},"axis":{"title":"MAP","format":"d","values":[200,400,600,800,1000,1200],"labelExpr":"indexof([200,600,1200],datum.value)<0?'':datum.label"}},"y":{"field":"f","type":"quantitative","title":"Effect of MAT on Resilience","scale":{"domain":[-0.225,0.627],"nice":false,"zero":false},"axis":{"title":"Effect of MAT on Resilience","values":[-0.2,0,0.2,0.4,0.6],"format":".1f","labelExpr":"replace(datum.label,'−','-')"}}},"layer":[{"mark":{"type":"line","color":"black","strokeWidth":1.2,"clip":true}},{"mark":{"type":"line","color":"black","strokeWidth":1,"strokeDash":[4,3],"clip":true},"encoding":{"y":{"field":"hi","type":"quantitative","title":"Effect of MAT on Resilience"}}},{"mark":{"type":"line","color":"black","strokeWidth":1,"strokeDash":[4,3],"clip":true},"encoding":{"y":{"field":"lo","type":"quantitative","title":"Effect of MAT on Resilience"}}},{"data":{"name":"r"},"transform":[{"filter":"datum.p==7"}],"mark":{"type":"rect","color":"black","stroke":"black","strokeWidth":1},"encoding":{"x2":{"field":"x2"},"y":{"datum":-0.225},"y2":{"datum":-0.205}}}]},
{"width":85,"height":157,"title":{"text":"Woody Savannas","offset":25},"data":{"name":"c"},"transform":[{"filter":"datum.p==8"}],"encoding":{"x":{"field":"x","type":"quantitative","title":"MAP","scale":{"domain":[-130,4360],"nice":false,"zero":false},"axis":{"title":"MAP","format":"d","values":[0,1000,2000,3000,4000],"labelExpr":"indexof([0,2000,4000],datum.value)<0?'':datum.label"}},"y":{"field":"f","type":"quantitative","title":"Effect of MAT on Resilience","scale":{"domain":[-0.225,0.627],"nice":false,"zero":false},"axis":{"title":"Effect of MAT on Resilience","values":[-0.2,0,0.2,0.4,0.6],"format":".1f","labelExpr":"replace(datum.label,'−','-')"}}},"layer":[{"mark":{"type":"line","color":"black","strokeWidth":1.2,"clip":true}},{"mark":{"type":"line","color":"black","strokeWidth":1,"strokeDash":[4,3],"clip":true},"encoding":{"y":{"field":"hi","type":"quantitative","title":"Effect of MAT on Resilience"}}},{"mark":{"type":"line","color":"black","strokeWidth":1,"strokeDash":[4,3],"clip":true},"encoding":{"y":{"field":"lo","type":"quantitative","title":"Effect of MAT on Resilience"}}},{"data":{"name":"r"},"transform":[{"filter":"datum.p==8"}],"mark":{"type":"rect","color":"black","stroke":"black","strokeWidth":1},"encoding":{"x2":{"field":"x2"},"y":{"datum":-0.225},"y2":{"datum":-0.205}}}]},
{"width":85,"height":157,"title":{"text":"Savannas","offset":25},"data":{"name":"c"},"transform":[{"filter":"datum.p==9"}],"encoding":{"x":{"field":"x","type":"quantitative","title":"MAP","scale":{"domain":[280,3330],"nice":false,"zero":false},"axis":{"title":"MAP","format":"d","values":[500,1000,1500,2000,2500,3000],"labelExpr":"indexof([500,1500,3000],datum.value)<0?'':datum.label"}},"y":{"field":"f","type":"quantitative","title":"Effect of MAT on Resilience","scale":{"domain":[-0.225,0.627],"nice":false,"zero":false},"axis":{"title":"Effect of MAT on Resilience","values":[-0.2,0,0.2,0.4,0.6],"format":".1f","labelExpr":"replace(datum.label,'−','-')"}}},"layer":[{"mark":{"type":"line","color":"black","strokeWidth":1.2,"clip":true}},{"mark":{"type":"line","color":"black","strokeWidth":1,"strokeDash":[4,3],"clip":true},"encoding":{"y":{"field":"hi","type":"quantitative","title":"Effect of MAT on Resilience"}}},{"mark":{"type":"line","color":"black","strokeWidth":1,"strokeDash":[4,3],"clip":true},"encoding":{"y":{"field":"lo","type":"quantitative","title":"Effect of MAT on Resilience"}}},{"data":{"name":"r"},"transform":[{"filter":"datum.p==9"}],"mark":{"type":"rect","color":"black","stroke":"black","strokeWidth":1},"encoding":{"x2":{"field":"x2"},"y":{"datum":-0.225},"y2":{"datum":-0.205}}}]},
{"width":85,"height":157,"title":{"text":"Grasslands","offset":25},"data":{"name":"c"},"transform":[{"filter":"datum.p==10"}],"encoding":{"x":{"field":"x","type":"quantitative","title":"MAP","scale":{"domain":[-60,2940],"nice":false,"zero":false},"axis":{"title":"MAP","format":"d","values":[0,500,1000,1500,2000,2500],"labelExpr":"indexof([0,1000,2500],datum.value)<0?'':datum.label"}},"y":{"field":"f","type":"quantitative","title":"Effect of MAT on Resilience","scale":{"domain":[-0.225,0.627],"nice":false,"zero":false},"axis":{"title":"Effect of MAT on Resilience","values":[-0.2,0,0.2,0.4,0.6],"format":".1f","labelExpr":"replace(datum.label,'−','-')"}}},"layer":[{"mark":{"type":"line","color":"black","strokeWidth":1.2,"clip":true}},{"mark":{"type":"line","color":"black","strokeWidth":1,"strokeDash":[4,3],"clip":true},"encoding":{"y":{"field":"hi","type":"quantitative","title":"Effect of MAT on Resilience"}}},{"mark":{"type":"line","color":"black","strokeWidth":1,"strokeDash":[4,3],"clip":true},"encoding":{"y":{"field":"lo","type":"quantitative","title":"Effect of MAT on Resilience"}}},{"data":{"name":"r"},"transform":[{"filter":"datum.p==10"}],"mark":{"type":"rect","color":"black","stroke":"black","strokeWidth":1},"encoding":{"x2":{"field":"x2"},"y":{"datum":-0.225},"y2":{"datum":-0.205}}}]},
{"width":85,"height":157,"title":{"text":"Permanent Wetlands","offset":25},"data":{"name":"c"},"transform":[{"filter":"datum.p==11"}],"encoding":{"x":{"field":"x","type":"quantitative","title":"MAP","scale":{"domain":[470,658],"nice":false,"zero":false},"axis":{"title":"MAP","format":"d","values":[500,550,600,650],"labelExpr":"indexof([500,600],datum.value)<0?'':datum.label"}},"y":{"field":"f","type":"quantitative","title":"Effect of MAT on Resilience","scale":{"domain":[-0.225,0.627],"nice":false,"zero":false},"axis":{"title":"Effect of MAT on Resilience","values":[-0.2,0,0.2,0.4,0.6],"format":".1f","labelExpr":"replace(datum.label,'−','-')"}}},"layer":[{"data":{"name":"s"},"transform":[{"filter":"datum.p==11"}],"mark":{"type":"point","filled":true,"color":"black","size":3,"opacity":1,"clip":true},"encoding":{"y":{"field":"y","type":"quantitative","title":"Effect of MAT on Resilience"}}},{"mark":{"type":"line","color":"black","strokeWidth":1.2,"clip":true}},{"mark":{"type":"line","color":"black","strokeWidth":1,"strokeDash":[4,3],"clip":true},"encoding":{"y":{"field":"hi","type":"quantitative","title":"Effect of MAT on Resilience"}}},{"mark":{"type":"line","color":"black","strokeWidth":1,"strokeDash":[4,3],"clip":true},"encoding":{"y":{"field":"lo","type":"quantitative","title":"Effect of MAT on Resilience"}}},{"data":{"name":"r"},"transform":[{"filter":"datum.p==11"}],"mark":{"type":"rect","color":"black","stroke":"black","strokeWidth":1},"encoding":{"x2":{"field":"x2"},"y":{"datum":-0.225},"y2":{"datum":-0.205}}}]},
{"width":85,"height":157,"title":{"text":"Cropland","offset":25},"data":{"name":"c"},"transform":[{"filter":"datum.p==12"}],"encoding":{"x":{"field":"x","type":"quantitative","title":"MAP","scale":{"domain":[-148,2807],"nice":false,"zero":false},"axis":{"title":"MAP","format":"d","values":[0,500,1000,1500,2000,2500],"labelExpr":"indexof([0,1000,2000],datum.value)<0?'':datum.label"}},"y":{"field":"f","type":"quantitative","title":"Effect of MAT on Resilience","scale":{"domain":[-0.225,0.627],"nice":false,"zero":false},"axis":{"title":"Effect of MAT on Resilience","values":[-0.2,0,0.2,0.4,0.6],"format":".1f","labelExpr":"replace(datum.label,'−','-')"}}},"layer":[{"mark":{"type":"line","color":"black","strokeWidth":1.2,"clip":true}},{"mark":{"type":"line","color":"black","strokeWidth":1,"strokeDash":[4,3],"clip":true},"encoding":{"y":{"field":"hi","type":"quantitative","title":"Effect of MAT on Resilience"}}},{"mark":{"type":"line","color":"black","strokeWidth":1,"strokeDash":[4,3],"clip":true},"encoding":{"y":{"field":"lo","type":"quantitative","title":"Effect of MAT on Resilience"}}},{"data":{"name":"r"},"transform":[{"filter":"datum.p==12"}],"mark":{"type":"rect","color":"black","stroke":"black","strokeWidth":1},"encoding":{"x2":{"field":"x2"},"y":{"datum":-0.225},"y2":{"datum":-0.205}}}]},
{"width":85,"height":157,"title":{"text":["Cropland/Natural","Vegetation Mosaic"]},"data":{"name":"c"},"transform":[{"filter":"datum.p==13"}],"encoding":{"x":{"field":"x","type":"quantitative","title":"MAP","scale":{"domain":[250,3560],"nice":false,"zero":false},"axis":{"title":"MAP","format":"d","values":[500,1000,1500,2000,2500,3000,3500],"labelExpr":"indexof([500,2000,3500],datum.value)<0?'':datum.label"}},"y":{"field":"f","type":"quantitative","title":"Effect of MAT on Resilience","scale":{"domain":[-0.225,0.627],"nice":false,"zero":false},"axis":{"title":"Effect of MAT on Resilience","values":[-0.2,0,0.2,0.4,0.6],"format":".1f","labelExpr":"replace(datum.label,'−','-')"}}},"layer":[{"mark":{"type":"line","color":"black","strokeWidth":1.2,"clip":true}},{"mark":{"type":"line","color":"black","strokeWidth":1,"strokeDash":[4,3],"clip":true},"encoding":{"y":{"field":"hi","type":"quantitative","title":"Effect of MAT on Resilience"}}},{"mark":{"type":"line","color":"black","strokeWidth":1,"strokeDash":[4,3],"clip":true},"encoding":{"y":{"field":"lo","type":"quantitative","title":"Effect of MAT on Resilience"}}},{"data":{"name":"r"},"transform":[{"filter":"datum.p==13"}],"mark":{"type":"rect","color":"black","stroke":"black","strokeWidth":1},"encoding":{"x2":{"field":"x2"},"y":{"datum":-0.225},"y2":{"datum":-0.205}}}]},
{"width":85,"height":157,"title":{"text":["Barren or","Sparsely Vegetated"]},"data":{"name":"c"},"transform":[{"filter":"datum.p==14"}],"encoding":{"x":{"field":"x","type":"quantitative","title":"MAP","scale":{"domain":[-24,816],"nice":false,"zero":false},"axis":{"title":"MAP","format":"d","values":[0,200,400,600,800],"labelExpr":"indexof([0,200,600],datum.value)<0?'':datum.label"}},"y":{"field":"f","type":"quantitative","title":"Effect of MAT on Resilience","scale":{"domain":[-0.225,0.627],"nice":false,"zero":false},"axis":{"title":"Effect of MAT on Resilience","values":[-0.2,0,0.2,0.4,0.6],"format":".1f","labelExpr":"replace(datum.label,'−','-')"}}},"layer":[{"mark":{"type":"line","color":"black","strokeWidth":1.2,"clip":true}},{"mark":{"type":"line","color":"black","strokeWidth":1,"strokeDash":[4,3],"clip":true},"encoding":{"y":{"field":"hi","type":"quantitative","title":"Effect of MAT on Resilience"}}},{"mark":{"type":"line","color":"black","strokeWidth":1,"strokeDash":[4,3],"clip":true},"encoding":{"y":{"field":"lo","type":"quantitative","title":"Effect of MAT on Resilience"}}},{"data":{"name":"r"},"transform":[{"filter":"datum.p==14"}],"mark":{"type":"rect","color":"black","stroke":"black","strokeWidth":1},"encoding":{"x2":{"field":"x2"},"y":{"datum":-0.225},"y2":{"datum":-0.205}}}]},
{"width":85,"height":157,"data":{"values":[{"a":0}]},"mark":{"type":"point","opacity":0},"view":{"stroke":null}},
{"width":85,"height":157,"title":{"text":["Evergreen","Needleleaf Forest"]},"data":{"name":"c"},"transform":[{"filter":"datum.p==15"}],"encoding":{"x":{"field":"x","type":"quantitative","title":"MAT","scale":{"domain":[-6.4,15.9],"nice":false,"zero":false},"axis":{"title":"MAT","format":"d","values":[-5,0,5,10,15],"labelExpr":"replace(datum.label,'−','-')"}},"y":{"field":"f","type":"quantitative","title":"Effect of MAT on Resilience","scale":{"domain":[-0.225,0.627],"nice":false,"zero":false},"axis":{"title":"Effect of MAT on Resilience","values":[-0.2,0,0.2,0.4,0.6],"format":".1f","labelExpr":"replace(datum.label,'−','-')"}}},"layer":[{"mark":{"type":"line","color":"black","strokeWidth":1.2,"clip":true}},{"mark":{"type":"line","color":"black","strokeWidth":1,"strokeDash":[4,3],"clip":true},"encoding":{"y":{"field":"hi","type":"quantitative","title":"Effect of MAT on Resilience"}}},{"mark":{"type":"line","color":"black","strokeWidth":1,"strokeDash":[4,3],"clip":true},"encoding":{"y":{"field":"lo","type":"quantitative","title":"Effect of MAT on Resilience"}}},{"data":{"name":"r"},"transform":[{"filter":"datum.p==15"}],"mark":{"type":"rect","color":"black","stroke":"black","strokeWidth":1},"encoding":{"x2":{"field":"x2"},"y":{"datum":-0.225},"y2":{"datum":-0.205}}}]},
{"width":85,"height":157,"title":{"text":["Evergreen","Broadleaf Forest"]},"data":{"name":"c"},"transform":[{"filter":"datum.p==16"}],"encoding":{"x":{"field":"x","type":"quantitative","title":"MAT","scale":{"domain":[5.7,29.2],"nice":false,"zero":false},"axis":{"title":"MAT","format":"d","values":[10,15,20,25],"labelExpr":"replace(datum.label,'−','-')"}},"y":{"field":"f","type":"quantitative","title":"Effect of MAT on Resilience","scale":{"domain":[-0.225,0.627],"nice":false,"zero":false},"axis":{"title":"Effect of MAT on Resilience","values":[-0.2,0,0.2,0.4,0.6],"format":".1f","labelExpr":"replace(datum.label,'−','-')"}}},"layer":[{"mark":{"type":"line","color":"black","strokeWidth":1.2,"clip":true}},{"mark":{"type":"line","color":"black","strokeWidth":1,"strokeDash":[4,3],"clip":true},"encoding":{"y":{"field":"hi","type":"quantitative","title":"Effect of MAT on Resilience"}}},{"mark":{"type":"line","color":"black","strokeWidth":1,"strokeDash":[4,3],"clip":true},"encoding":{"y":{"field":"lo","type":"quantitative","title":"Effect of MAT on Resilience"}}},{"data":{"name":"r"},"transform":[{"filter":"datum.p==16"}],"mark":{"type":"rect","color":"black","stroke":"black","strokeWidth":1},"encoding":{"x2":{"field":"x2"},"y":{"datum":-0.225},"y2":{"datum":-0.205}}}]},
{"width":85,"height":157,"title":{"text":["Deciduous","Needleleaf Forest"]},"data":{"name":"c"},"transform":[{"filter":"datum.p==17"}],"encoding":{"x":{"field":"x","type":"quantitative","title":"MAT","scale":{"domain":[-9.57,-3.4],"nice":false,"zero":false},"axis":{"title":"MAT","format":"d","values":[-9,-8,-7,-6,-5,-4],"labelExpr":"indexof([-9,-7,-5],datum.value)<0?'':replace(datum.label,'−','-')"}},"y":{"field":"f","type":"quantitative","title":"Effect of MAT on Resilience","scale":{"domain":[-0.225,0.627],"nice":false,"zero":false},"axis":{"title":"Effect of MAT on Resilience","values":[-0.2,0,0.2,0.4,0.6],"format":".1f","labelExpr":"replace(datum.label,'−','-')"}}},"layer":[{"mark":{"type":"line","color":"black","strokeWidth":1.2,"clip":true}},{"mark":{"type":"line","color":"black","strokeWidth":1,"strokeDash":[4,3],"clip":true},"encoding":{"y":{"field":"hi","type":"quantitative","title":"Effect of MAT on Resilience"}}},{"mark":{"type":"line","color":"black","strokeWidth":1,"strokeDash":[4,3],"clip":true},"encoding":{"y":{"field":"lo","type":"quantitative","title":"Effect of MAT on Resilience"}}},{"data":{"name":"r"},"transform":[{"filter":"datum.p==17"}],"mark":{"type":"rect","color":"black","stroke":"black","strokeWidth":1},"encoding":{"x2":{"field":"x2"},"y":{"datum":-0.225},"y2":{"datum":-0.205}}}]},
{"width":85,"height":157,"title":{"text":["Deciduous","Broadleaf Forest"]},"data":{"name":"c"},"transform":[{"filter":"datum.p==18"}],"encoding":{"x":{"field":"x","type":"quantitative","title":"MAT","scale":{"domain":[0.8,26.3],"nice":false,"zero":false},"axis":{"title":"MAT","format":"d","values":[5,10,15,20,25],"labelExpr":"indexof([5,10,20],datum.value)<0?'':datum.label"}},"y":{"field":"f","type":"quantitative","title":"Effect of MAT on Resilience","scale":{"domain":[-0.225,0.627],"nice":false,"zero":false},"axis":{"title":"Effect of MAT on Resilience","values":[-0.2,0,0.2,0.4,0.6],"format":".1f","labelExpr":"replace(datum.label,'−','-')"}}},"layer":[{"mark":{"type":"line","color":"black","strokeWidth":1.2,"clip":true}},{"mark":{"type":"line","color":"black","strokeWidth":1,"strokeDash":[4,3],"clip":true},"encoding":{"y":{"field":"hi","type":"quantitative","title":"Effect of MAT on Resilience"}}},{"mark":{"type":"line","color":"black","strokeWidth":1,"strokeDash":[4,3],"clip":true},"encoding":{"y":{"field":"lo","type":"quantitative","title":"Effect of MAT on Resilience"}}},{"data":{"name":"r"},"transform":[{"filter":"datum.p==18"}],"mark":{"type":"rect","color":"black","stroke":"black","strokeWidth":1},"encoding":{"x2":{"field":"x2"},"y":{"datum":-0.225},"y2":{"datum":-0.205}}}]},
{"width":85,"height":157,"title":{"text":"Mixed Forest","offset":25},"data":{"name":"c"},"transform":[{"filter":"datum.p==19"}],"encoding":{"x":{"field":"x","type":"quantitative","title":"MAT","scale":{"domain":[-8,24],"nice":false,"zero":false},"axis":{"title":"MAT","format":"d","values":[-5,0,5,10,15,20],"labelExpr":"indexof([-5,5,15],datum.value)<0?'':replace(datum.label,'−','-')"}},"y":{"field":"f","type":"quantitative","title":"Effect of MAT on Resilience","scale":{"domain":[-0.225,0.627],"nice":false,"zero":false},"axis":{"title":"Effect of MAT on Resilience","values":[-0.2,0,0.2,0.4,0.6],"format":".1f","labelExpr":"replace(datum.label,'−','-')"}}},"layer":[{"mark":{"type":"line","color":"black","strokeWidth":1.2,"clip":true}},{"mark":{"type":"line","color":"black","strokeWidth":1,"strokeDash":[4,3],"clip":true},"encoding":{"y":{"field":"hi","type":"quantitative","title":"Effect of MAT on Resilience"}}},{"mark":{"type":"line","color":"black","strokeWidth":1,"strokeDash":[4,3],"clip":true},"encoding":{"y":{"field":"lo","type":"quantitative","title":"Effect of MAT on Resilience"}}},{"data":{"name":"r"},"transform":[{"filter":"datum.p==19"}],"mark":{"type":"rect","color":"black","stroke":"black","strokeWidth":1},"encoding":{"x2":{"field":"x2"},"y":{"datum":-0.225},"y2":{"datum":-0.205}}}]},
{"width":85,"height":157,"title":{"text":"Closed Shrublands","offset":25},"data":{"name":"c"},"transform":[{"filter":"datum.p==20"}],"encoding":{"x":{"field":"x","type":"quantitative","title":"MAT","scale":{"domain":[8.5,27.4],"nice":false,"zero":false},"axis":{"title":"MAT","format":"d","values":[10,15,20,25],"labelExpr":"replace(datum.label,'−','-')"}},"y":{"field":"f","type":"quantitative","title":"Effect of MAT on Resilience","scale":{"domain":[-0.225,0.627],"nice":false,"zero":false},"axis":{"title":"Effect of MAT on Resilience","values":[-0.2,0,0.2,0.4,0.6],"format":".1f","labelExpr":"replace(datum.label,'−','-')"}}},"layer":[{"mark":{"type":"line","color":"black","strokeWidth":1.2,"clip":true}},{"mark":{"type":"line","color":"black","strokeWidth":1,"strokeDash":[4,3],"clip":true},"encoding":{"y":{"field":"hi","type":"quantitative","title":"Effect of MAT on Resilience"}}},{"mark":{"type":"line","color":"black","strokeWidth":1,"strokeDash":[4,3],"clip":true},"encoding":{"y":{"field":"lo","type":"quantitative","title":"Effect of MAT on Resilience"}}},{"data":{"name":"r"},"transform":[{"filter":"datum.p==20"}],"mark":{"type":"rect","color":"black","stroke":"black","strokeWidth":1},"encoding":{"x2":{"field":"x2"},"y":{"datum":-0.225},"y2":{"datum":-0.205}}}]},
{"width":85,"height":157,"title":{"text":"Open Shrublands","offset":25},"data":{"name":"c"},"transform":[{"filter":"datum.p==21"}],"encoding":{"x":{"field":"x","type":"quantitative","title":"MAT","scale":{"domain":[-13.2,33.6],"nice":false,"zero":false},"axis":{"title":"MAT","format":"d","values":[-10,0,10,20,30],"labelExpr":"replace(datum.label,'−','-')"}},"y":{"field":"f","type":"quantitative","title":"Effect of MAT on Resilience","scale":{"domain":[-0.225,0.627],"nice":false,"zero":false},"axis":{"title":"Effect of MAT on Resilience","values":[-0.2,0,0.2,0.4,0.6],"format":".1f","labelExpr":"replace(datum.label,'−','-')"}}},"layer":[{"mark":{"type":"line","color":"black","strokeWidth":1.2,"clip":true}},{"mark":{"type":"line","color":"black","strokeWidth":1,"strokeDash":[4,3],"clip":true},"encoding":{"y":{"field":"hi","type":"quantitative","title":"Effect of MAT on Resilience"}}},{"mark":{"type":"line","color":"black","strokeWidth":1,"strokeDash":[4,3],"clip":true},"encoding":{"y":{"field":"lo","type":"quantitative","title":"Effect of MAT on Resilience"}}},{"data":{"name":"r"},"transform":[{"filter":"datum.p==21"}],"mark":{"type":"rect","color":"black","stroke":"black","strokeWidth":1},"encoding":{"x2":{"field":"x2"},"y":{"datum":-0.225},"y2":{"datum":-0.205}}}]},
{"width":85,"height":157,"title":{"text":"Woody Savannas","offset":25},"data":{"name":"c"},"transform":[{"filter":"datum.p==22"}],"encoding":{"x":{"field":"x","type":"quantitative","title":"MAT","scale":{"domain":[-11.7,32],"nice":false,"zero":false},"axis":{"title":"MAT","format":"d","values":[-10,0,10,20,30],"labelExpr":"indexof([-10,0,10,20],datum.value)<0?'':replace(datum.label,'−','-')"}},"y":{"field":"f","type":"quantitative","title":"Effect of MAT on Resilience","scale":{"domain":[-0.225,0.627],"nice":false,"zero":false},"axis":{"title":"Effect of MAT on Resilience","values":[-0.2,0,0.2,0.4,0.6],"format":".1f","labelExpr":"replace(datum.label,'−','-')"}}},"layer":[{"mark":{"type":"line","color":"black","strokeWidth":1.2,"clip":true}},{"mark":{"type":"line","color":"black","strokeWidth":1,"strokeDash":[4,3],"clip":true},"encoding":{"y":{"field":"hi","type":"quantitative","title":"Effect of MAT on Resilience"}}},{"mark":{"type":"line","color":"black","strokeWidth":1,"strokeDash":[4,3],"clip":true},"encoding":{"y":{"field":"lo","type":"quantitative","title":"Effect of MAT on Resilience"}}},{"data":{"name":"r"},"transform":[{"filter":"datum.p==22"}],"mark":{"type":"rect","color":"black","stroke":"black","strokeWidth":1},"encoding":{"x2":{"field":"x2"},"y":{"datum":-0.225},"y2":{"datum":-0.205}}}]},
{"width":85,"height":157,"title":{"text":"Savannas","offset":25},"data":{"name":"c"},"transform":[{"filter":"datum.p==23"}],"encoding":{"x":{"field":"x","type":"quantitative","title":"MAT","scale":{"domain":[-6,33],"nice":false,"zero":false},"axis":{"title":"MAT","format":"d","values":[0,10,20,30],"labelExpr":"replace(datum.label,'−','-')"}},"y":{"field":"f","type":"quantitative","title":"Effect of MAT on Resilience","scale":{"domain":[-0.225,0.627],"nice":false,"zero":false},"axis":{"title":"Effect of MAT on Resilience","values":[-0.2,0,0.2,0.4,0.6],"format":".1f","labelExpr":"replace(datum.label,'−','-')"}}},"layer":[{"mark":{"type":"line","color":"black","strokeWidth":1.2,"clip":true}},{"mark":{"type":"line","color":"black","strokeWidth":1,"strokeDash":[4,3],"clip":true},"encoding":{"y":{"field":"hi","type":"quantitative","title":"Effect of MAT on Resilience"}}},{"mark":{"type":"line","color":"black","strokeWidth":1,"strokeDash":[4,3],"clip":true},"encoding":{"y":{"field":"lo","type":"quantitative","title":"Effect of MAT on Resilience"}}},{"data":{"name":"r"},"transform":[{"filter":"datum.p==23"}],"mark":{"type":"rect","color":"black","stroke":"black","strokeWidth":1},"encoding":{"x2":{"field":"x2"},"y":{"datum":-0.225},"y2":{"datum":-0.205}}}]},
{"width":85,"height":157,"title":{"text":"Grasslands","offset":25},"data":{"name":"c"},"transform":[{"filter":"datum.p==24"}],"encoding":{"x":{"field":"x","type":"quantitative","title":"MAT","scale":{"domain":[-8,33],"nice":false,"zero":false},"axis":{"title":"MAT","format":"d","values":[0,10,20,30],"labelExpr":"replace(datum.label,'−','-')"}},"y":{"field":"f","type":"quantitative","title":"Effect of MAT on Resilience","scale":{"domain":[-0.225,0.627],"nice":false,"zero":false},"axis":{"title":"Effect of MAT on Resilience","values":[-0.2,0,0.2,0.4,0.6],"format":".1f","labelExpr":"replace(datum.label,'−','-')"}}},"layer":[{"mark":{"type":"line","color":"black","strokeWidth":1.2,"clip":true}},{"mark":{"type":"line","color":"black","strokeWidth":1,"strokeDash":[4,3],"clip":true},"encoding":{"y":{"field":"hi","type":"quantitative","title":"Effect of MAT on Resilience"}}},{"mark":{"type":"line","color":"black","strokeWidth":1,"strokeDash":[4,3],"clip":true},"encoding":{"y":{"field":"lo","type":"quantitative","title":"Effect of MAT on Resilience"}}},{"data":{"name":"r"},"transform":[{"filter":"datum.p==24"}],"mark":{"type":"rect","color":"black","stroke":"black","strokeWidth":1},"encoding":{"x2":{"field":"x2"},"y":{"datum":-0.225},"y2":{"datum":-0.205}}}]},
{"width":85,"height":157,"title":{"text":"Permanent Wetlands","offset":25},"data":{"name":"c"},"transform":[{"filter":"datum.p==25"}],"encoding":{"x":{"field":"x","type":"quantitative","title":"MAT","scale":{"domain":[-3.57,1.29],"nice":false,"zero":false},"axis":{"title":"MAT","format":"d","values":[-3,-2,-1,0,1],"labelExpr":"replace(datum.label,'−','-')"}},"y":{"field":"f","type":"quantitative","title":"Effect of MAT on Resilience","scale":{"domain":[-0.225,0.627],"nice":false,"zero":false},"axis":{"title":"Effect of MAT on Resilience","values":[-0.2,0,0.2,0.4,0.6],"format":".1f","labelExpr":"replace(datum.label,'−','-')"}}},"layer":[{"data":{"name":"s"},"transform":[{"filter":"datum.p==25"}],"mark":{"type":"point","filled":true,"color":"black","size":3,"opacity":1,"clip":true},"encoding":{"y":{"field":"y","type":"quantitative","title":"Effect of MAT on Resilience"}}},{"mark":{"type":"line","color":"black","strokeWidth":1.2,"clip":true}},{"mark":{"type":"line","color":"black","strokeWidth":1,"strokeDash":[4,3],"clip":true},"encoding":{"y":{"field":"hi","type":"quantitative","title":"Effect of MAT on Resilience"}}},{"mark":{"type":"line","color":"black","strokeWidth":1,"strokeDash":[4,3],"clip":true},"encoding":{"y":{"field":"lo","type":"quantitative","title":"Effect of MAT on Resilience"}}},{"data":{"name":"r"},"transform":[{"filter":"datum.p==25"}],"mark":{"type":"rect","color":"black","stroke":"black","strokeWidth":1},"encoding":{"x2":{"field":"x2"},"y":{"datum":-0.225},"y2":{"datum":-0.205}}}]},
{"width":85,"height":157,"title":{"text":"Cropland","offset":25},"data":{"name":"c"},"transform":[{"filter":"datum.p==26"}],"encoding":{"x":{"field":"x","type":"quantitative","title":"MAT","scale":{"domain":[-3,31],"nice":false,"zero":false},"axis":{"title":"MAT","format":"d","values":[0,5,10,15,20,25,30],"labelExpr":"indexof([0,5,10,20],datum.value)<0?'':datum.label"}},"y":{"field":"f","type":"quantitative","title":"Effect of MAT on Resilience","scale":{"domain":[-0.225,0.627],"nice":false,"zero":false},"axis":{"title":"Effect of MAT on Resilience","values":[-0.2,0,0.2,0.4,0.6],"format":".1f","labelExpr":"replace(datum.label,'−','-')"}}},"layer":[{"mark":{"type":"line","color":"black","strokeWidth":1.2,"clip":true}},{"mark":{"type":"line","color":"black","strokeWidth":1,"strokeDash":[4,3],"clip":true},"encoding":{"y":{"field":"hi","type":"quantitative","title":"Effect of MAT on Resilience"}}},{"mark":{"type":"line","color":"black","strokeWidth":1,"strokeDash":[4,3],"clip":true},"encoding":{"y":{"field":"lo","type":"quantitative","title":"Effect of MAT on Resilience"}}},{"data":{"name":"r"},"transform":[{"filter":"datum.p==26"}],"mark":{"type":"rect","color":"black","stroke":"black","strokeWidth":1},"encoding":{"x2":{"field":"x2"},"y":{"datum":-0.225},"y2":{"datum":-0.205}}}]},
{"width":85,"height":157,"title":{"text":["Cropland/Natural","Vegetation Mosaic"]},"data":{"name":"c"},"transform":[{"filter":"datum.p==27"}],"encoding":{"x":{"field":"x","type":"quantitative","title":"MAT","scale":{"domain":[-12,33],"nice":false,"zero":false},"axis":{"title":"MAT","format":"d","values":[0,10,20,30],"labelExpr":"replace(datum.label,'−','-')"}},"y":{"field":"f","type":"quantitative","title":"Effect of MAT on Resilience","scale":{"domain":[-0.225,0.627],"nice":false,"zero":false},"axis":{"title":"Effect of MAT on Resilience","values":[-0.2,0,0.2,0.4,0.6],"format":".1f","labelExpr":"replace(datum.label,'−','-')"}}},"layer":[{"mark":{"type":"line","color":"black","strokeWidth":1.2,"clip":true}},{"mark":{"type":"line","color":"black","strokeWidth":1,"strokeDash":[4,3],"clip":true},"encoding":{"y":{"field":"hi","type":"quantitative","title":"Effect of MAT on Resilience"}}},{"mark":{"type":"line","color":"black","strokeWidth":1,"strokeDash":[4,3],"clip":true},"encoding":{"y":{"field":"lo","type":"quantitative","title":"Effect of MAT on Resilience"}}},{"data":{"name":"r"},"transform":[{"filter":"datum.p==27"}],"mark":{"type":"rect","color":"black","stroke":"black","strokeWidth":1},"encoding":{"x2":{"field":"x2"},"y":{"datum":-0.225},"y2":{"datum":-0.205}}}]},
{"width":85,"height":157,"title":{"text":["Barren or","Sparsely Vegetated"]},"data":{"name":"c"},"transform":[{"filter":"datum.p==28"}],"encoding":{"x":{"field":"x","type":"quantitative","title":"MAT","scale":{"domain":[-12,33],"nice":false,"zero":false},"axis":{"title":"MAT","format":"d","values":[0,10,20,30],"labelExpr":"replace(datum.label,'−','-')"}},"y":{"field":"f","type":"quantitative","title":"Effect of MAT on Resilience","scale":{"domain":[-0.225,0.627],"nice":false,"zero":false},"axis":{"title":"Effect of MAT on Resilience","values":[-0.2,0,0.2,0.4,0.6],"format":".1f","labelExpr":"replace(datum.label,'−','-')"}}},"layer":[{"mark":{"type":"line","color":"black","strokeWidth":1.2,"clip":true}},{"mark":{"type":"line","color":"black","strokeWidth":1,"strokeDash":[4,3],"clip":true},"encoding":{"y":{"field":"hi","type":"quantitative","title":"Effect of MAT on Resilience"}}},{"mark":{"type":"line","color":"black","strokeWidth":1,"strokeDash":[4,3],"clip":true},"encoding":{"y":{"field":"lo","type":"quantitative","title":"Effect of MAT on Resilience"}}},{"data":{"name":"r"},"transform":[{"filter":"datum.p==28"}],"mark":{"type":"rect","color":"black","stroke":"black","strokeWidth":1},"encoding":{"x2":{"field":"x2"},"y":{"datum":-0.225},"y2":{"datum":-0.205}}}]}
]
}
